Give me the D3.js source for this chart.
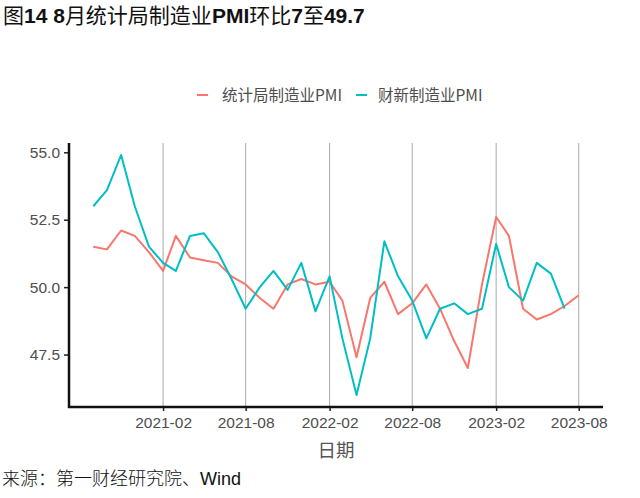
<!DOCTYPE html>
<html><head><meta charset="utf-8">
<script src="https://cdn.jsdelivr.net/npm/d3@7"></script>
<style>body{margin:0;background:#fff}svg{display:block}</style>
</head><body>
<svg id="c" width="640" height="498"></svg>
<script>
const months = ["2020-09","2020-10","2020-11","2020-12","2021-01","2021-02","2021-03","2021-04","2021-05","2021-06","2021-07","2021-08","2021-09","2021-10","2021-11","2021-12","2022-01","2022-02","2022-03","2022-04","2022-05","2022-06","2022-07","2022-08","2022-09","2022-10","2022-11","2022-12","2023-01","2023-02","2023-03","2023-04","2023-05","2023-06","2023-07","2023-08"];
const nbsPMI = [51.5,51.4,52.1,51.9,51.3,50.6,51.9,51.1,51.0,50.9,50.4,50.1,49.6,49.2,50.1,50.3,50.1,50.2,49.5,47.4,49.6,50.2,49.0,49.4,50.1,49.2,48.0,47.0,50.1,52.6,51.9,49.2,48.8,49.0,49.3,49.7];
const caixinPMI = [53.0,53.6,54.9,53.0,51.5,50.9,50.6,51.9,52.0,51.3,50.3,49.2,50.0,50.6,49.9,50.9,49.1,50.4,48.1,46.0,48.1,51.7,50.4,49.5,48.1,49.2,49.4,49.0,49.2,51.6,50.0,49.5,50.9,50.5,49.2,null];
const xTickLabels = ["2021-02","2021-08","2022-02","2022-08","2023-02","2023-08"];
const yTicks = [47.5,50.0,52.5,55.0];
const seriesNames = ["统计局制造业PMI","财新制造业PMI"];
const colors = ["#F8766D","#00BFC4"];

const parse = d3.timeParse("%Y-%m");
const dates = months.map(parse);
const svg = d3.select("#c");
const L = 69, R = 603, T = 143, B = 407;

const d0 = dates[0], d1 = dates[dates.length-1];
const span = d1 - d0;
const x = d3.scaleTime().domain([new Date(+d0 - span*0.05), new Date(+d1 + span*0.05)]).range([L, R]);
const all = nbsPMI.concat(caixinPMI).filter(v => v != null);
const mn = d3.min(all), mx = d3.max(all), pad = (mx - mn)*0.05;
const y = d3.scaleLinear().domain([mn - pad, mx + pad]).range([B, T]);

// title
const title = svg.append("text").attr("x", 3).attr("y", 23).attr("font-size", 21).attr("fill", "#111");
[["图","c"],["14 8","l"],["月统计局制造业","c"],["PMI","l"],["环比","c"],["7","l"],["至","c"],["49.7","l"]].forEach(([t,k]) => {
  title.append("tspan").text(t)
    .attr("font-family", k === "c" ? "'Noto Sans CJK SC'" : "'Liberation Sans', Arial, sans-serif")
    .attr("font-weight", k === "c" ? 400 : 700);
});

// gridlines
const xTickDates = xTickLabels.map(parse);
svg.append("g").selectAll("line").data(xTickDates).join("line")
  .attr("x1", d => x(d)).attr("x2", d => x(d)).attr("y1", T).attr("y2", B)
  .attr("stroke", "#a8a8a8").attr("stroke-width", 1);

// axes
const xAxis = svg.append("g").attr("transform", `translate(0,${B})`)
  .call(d3.axisBottom(x).tickValues(xTickDates).tickFormat(d3.timeFormat("%Y-%m")).tickSize(4).tickPadding(6));
xAxis.select(".domain").remove();
xAxis.selectAll(".tick line").attr("stroke", "#222").attr("stroke-width", 1.5);
xAxis.selectAll("text").attr("font-size", 15.5).attr("fill", "#4d4d4d").attr("font-family", "'Liberation Sans', Arial, sans-serif");

const yAxis = svg.append("g").attr("transform", `translate(${L},0)`)
  .call(d3.axisLeft(y).tickValues(yTicks).tickFormat(d3.format(".1f")).tickSize(5).tickPadding(4));
yAxis.select(".domain").remove();
yAxis.selectAll(".tick line").attr("stroke", "#222").attr("stroke-width", 1.5);
yAxis.selectAll("text").attr("font-size", 15.5).attr("fill", "#4d4d4d").attr("font-family", "'Liberation Sans', Arial, sans-serif");

svg.append("line").attr("x1", L).attr("x2", L).attr("y1", T).attr("y2", B + 1).attr("stroke", "#111").attr("stroke-width", 2.5);
svg.append("line").attr("x1", L - 1).attr("x2", R).attr("y1", B).attr("y2", B).attr("stroke", "#111").attr("stroke-width", 2.5);

// lines
[nbsPMI, caixinPMI].forEach((vals, i) => {
  const line = d3.line().defined(d => d[1] != null).x(d => x(d[0])).y(d => y(d[1]));
  svg.append("path").datum(dates.map((d, j) => [d, vals[j]]))
    .attr("d", line).attr("fill", "none").attr("stroke", colors[i]).attr("stroke-width", 2)
    .attr("stroke-linejoin", "round");
});

// axis title
svg.append("text").attr("x", (L + R)/2).attr("y", 457).attr("text-anchor", "middle")
  .attr("font-size", 18.5).attr("fill", "#555").attr("font-family", "'Noto Sans CJK SC'").text("日期");

// legend
const lg = [{x: 197, tx: 222}, {x: 356, tx: 378}];
seriesNames.forEach((n, i) => {
  svg.append("line").attr("x1", lg[i].x).attr("x2", lg[i].x + 11).attr("y1", 95).attr("y2", 95)
    .attr("stroke", colors[i]).attr("stroke-width", 2);
  svg.append("text").attr("x", lg[i].tx).attr("y", 100.5).attr("font-size", 15.5).attr("fill", "#4d4d4d")
    .attr("font-family", "'Noto Sans CJK SC'").text(n);
});

// source
const src = svg.append("text").attr("x", 2).attr("y", 485).attr("font-size", 18).attr("fill", "#111");
src.append("tspan").attr("font-family", "'Noto Sans CJK SC'").attr("font-weight", 300).text("来源：第一财经研究院、");
src.append("tspan").attr("font-family", "'Liberation Sans', Arial, sans-serif").text("Wind");
</script>
</body></html>
